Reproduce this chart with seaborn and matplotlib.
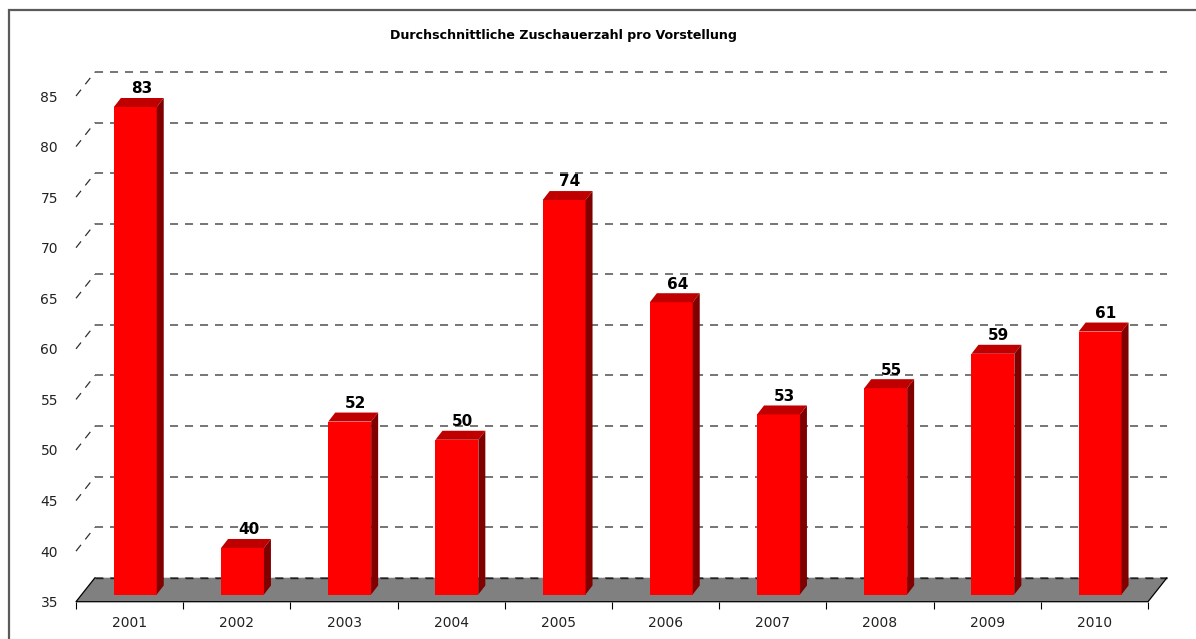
import numpy as np
import pandas as pd
import matplotlib.pyplot as plt
import seaborn as sns
from matplotlib.patches import Polygon, Rectangle

# Daten: durchschnittliche Zuschauer pro Vorstellung
jahre = ["2001", "2002", "2003", "2004", "2005", "2006", "2007", "2008", "2009", "2010"]
zuschauer = [83.2, 39.6, 52.1, 50.3, 74.0, 63.9, 52.8, 55.4, 58.8, 61.0]
y_ticks = [35, 40, 45, 50, 55, 60, 65, 70, 75, 80, 85]
titel = "Durchschnittliche Zuschauerzahl pro Vorstellung"

basis = 35
W, H = 1196, 639
ax_l, ax_r, ax_b, ax_t = 76, 1148, 601.7, 96   # Pixel der vorderen Achsenebene

sns.set_theme(style="white")
plt.rcParams["font.family"] = ["DejaVu Sans"]
plt.rcParams["lines.scale_dashes"] = False

df = pd.DataFrame({"Jahr": jahre, "Wert": zuschauer})

fig = plt.figure(figsize=(W / 100, H / 100), dpi=100)
ax = fig.add_axes([ax_l / W, (H - ax_b) / H, (ax_r - ax_l) / W, (ax_b - ax_t) / H])

# Pixel -> Dateneinheiten
ppx = (ax_r - ax_l) / len(jahre)
ppy = (ax_b - ax_t) / (y_ticks[-1] - y_ticks[0])
def px(dx, dy):
    return dx / ppx, dy / ppy

tiefe = px(19, 24)          # Tiefe der Bodenplatte
vorne = px(5.7, 7.2)        # Vorderseite der Säulen
saeule = px(7.0, 9.0)       # Tiefe der Säulen
x0, x1 = -0.5, len(jahre) - 0.5

sns.barplot(data=df, x="Jahr", y="Wert", color="#FF0000", width=0.4,
            saturation=1, edgecolor="none", linewidth=0, ax=ax, zorder=3)
bars = list(ax.patches)

# Rückwand-Gitter + linke Seitenwand
dash = (0, (5.8, 5.0))
for yv in y_ticks:
    ax.plot([x0 + tiefe[0], x1 + tiefe[0]], [yv + tiefe[1]] * 2, color="#505050",
            lw=1.1, ls=dash, clip_on=False, zorder=0.5)
    if yv > basis:
        ax.plot([x0, x0 + tiefe[0]], [yv, yv + tiefe[1]], color="#303030",
                lw=0.9, ls=dash, clip_on=False, zorder=0.5)

# Bodenplatte
boden = Polygon([(x0, basis), (x1, basis), (x1 + tiefe[0], basis + tiefe[1]),
                 (x0 + tiefe[0], basis + tiefe[1])], closed=True,
                facecolor="#808080", edgecolor="none", clip_on=False, zorder=1)
ax.add_patch(boden)
ax.plot([x0 + tiefe[0], x0, x1, x1 + tiefe[0]],
        [basis + tiefe[1], basis, basis, basis + tiefe[1]],
        color="black", lw=0.9, clip_on=False, zorder=1.2)
ax.plot([x0 + tiefe[0], x1 + tiefe[0]], [basis + tiefe[1]] * 2, color="#202020",
        lw=1.0, ls=dash, clip_on=False, zorder=1.1)

# Säulen in 3D
for p, wert in zip(bars, zuschauer):
    h = p.get_height()
    p.set_x(p.get_x() + vorne[0])
    p.set_y(basis + vorne[1])
    p.set_height(h - basis)
    p.set_clip_on(False)
    xa, w = p.get_x(), p.get_width()
    yb, yt = p.get_y(), p.get_y() + p.get_height()
    dx, dy = saeule
    oben = Polygon([(xa, yt), (xa + w, yt), (xa + w + dx, yt + dy), (xa + dx, yt + dy)],
                   closed=True, facecolor="#C00000", edgecolor="none", clip_on=False, zorder=3)
    seite = Polygon([(xa + w, yb), (xa + w + dx, yb + dy), (xa + w + dx, yt + dy), (xa + w, yt)],
                    closed=True, facecolor="#800000", edgecolor="none", clip_on=False, zorder=3)
    ax.add_patch(oben)
    ax.add_patch(seite)
    lx, ly = px(6, 4.6)
    ax.text(xa + w / 2 + lx, yt + dy + ly, f"{wert:.0f}", ha="center", va="baseline",
            fontsize=11, fontweight="bold", color="black", zorder=4)

ax.set_xlim(x0, x1)
ax.set_ylim(y_ticks[0], y_ticks[-1])
ax.set_yticks(y_ticks)
ax.set_xlabel("")
ax.set_ylabel("")
ax.set_xticks(np.arange(x0, x1 + 0.01, 1.0), minor=True)
ax.tick_params(axis="x", which="major", length=0, pad=10, labelsize=10, labelcolor="#222222")
ax.tick_params(axis="x", which="minor", length=5, width=0.8, color="black", direction="out",
               bottom=True)
ax.tick_params(axis="y", length=0, pad=13, labelsize=10, labelcolor="#222222")
for s in ["left", "right", "top", "bottom"]:
    ax.spines[s].set_visible(False)
ax.set_facecolor("none")

fig.text(563 / W, 1 - 35 / H, titel, ha="center", va="center", fontsize=9.1,
         fontweight="bold", color="black")

# Rahmen um das Diagramm
fig.patches.append(Rectangle((9 / W, -0.2), 1.2, 1.2 - 10.5 / H,
                             transform=fig.transFigure, fill=False, edgecolor="#5a5a5a",
                             lw=1.6, figure=fig))

fig.savefig("out.png", dpi=100)
